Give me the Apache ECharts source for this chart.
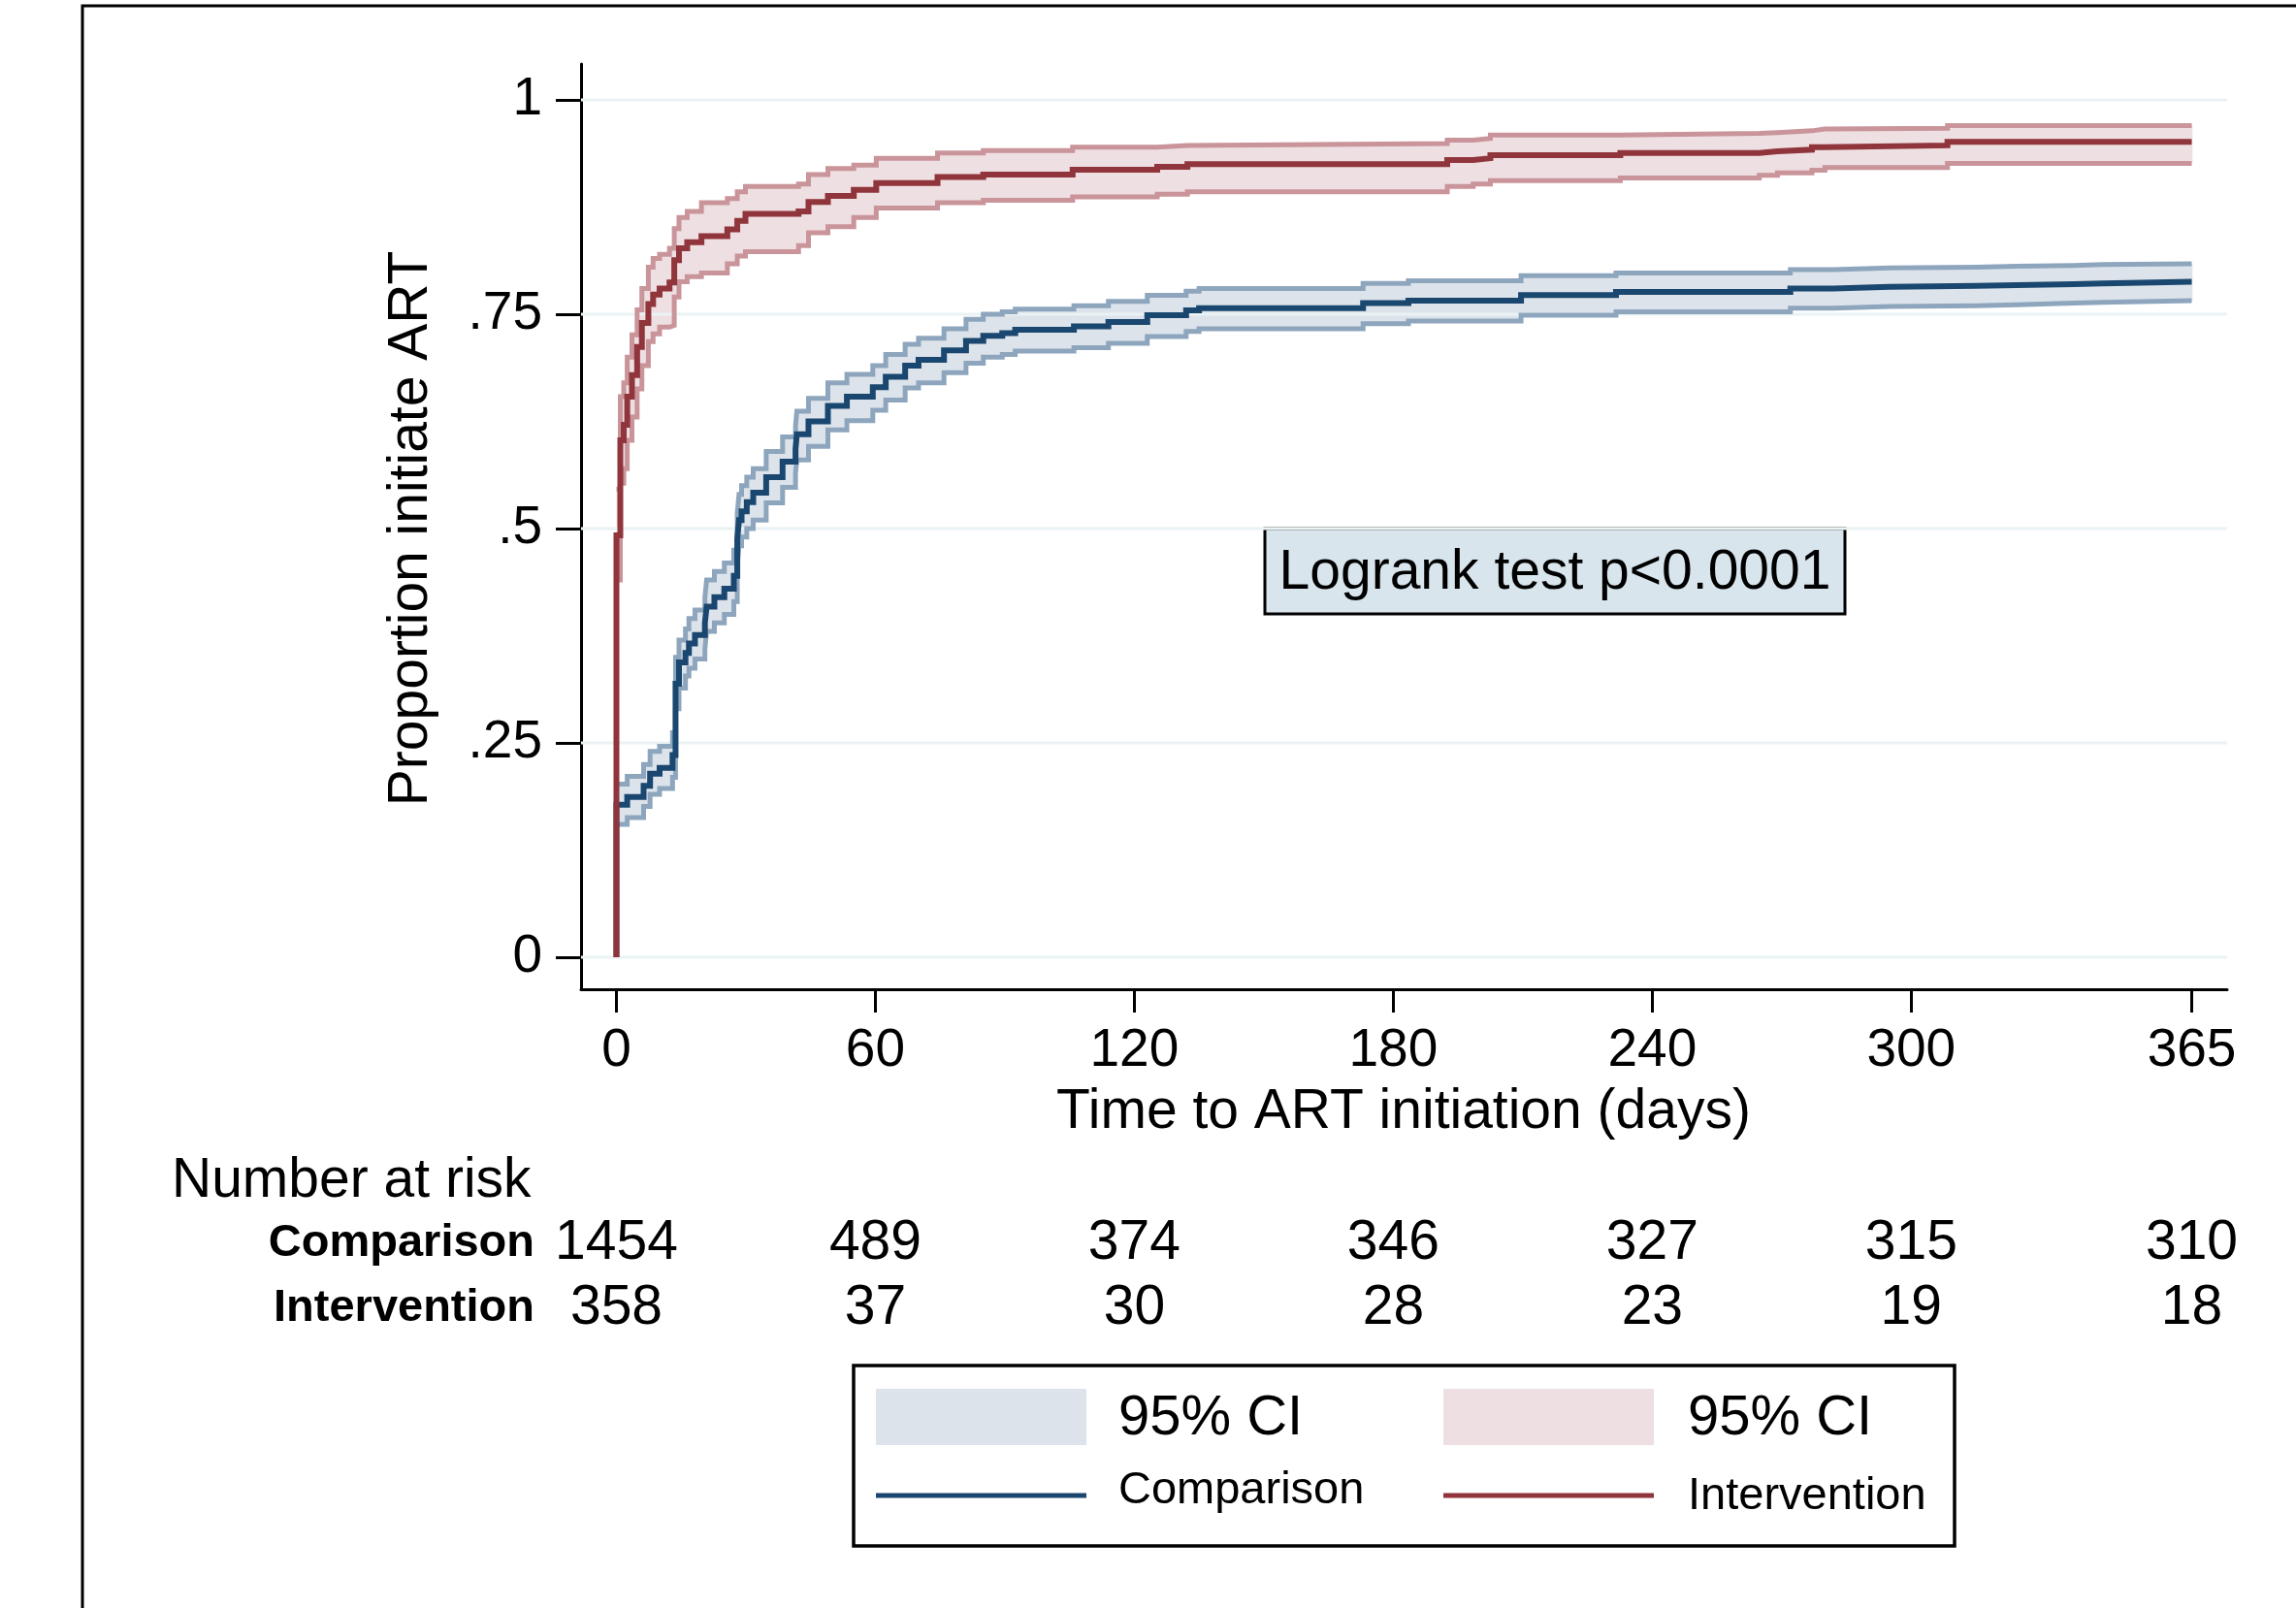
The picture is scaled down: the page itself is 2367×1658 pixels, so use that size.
<!DOCTYPE html>
<html>
<head>
<meta charset="utf-8">
<title>Time to ART initiation</title>
<script src="https://cdn.jsdelivr.net/npm/echarts@6/dist/echarts.min.js"></script>
<style>
  html, body { margin: 0; padding: 0; background: #fff; }
  #chart { width: 2367px; height: 1658px; }
</style>
</head>
<body>
<div id="chart"></div>
<script>
  // axis ticks
  var xTicks = [0, 60, 120, 180, 240, 300, 365];
  var yTicks = [0, 0.25, 0.5, 0.75, 1];
  var yTickLabels = ['0', '.25', '.5', '.75', '1'];

  // number at risk
  var riskRows = ['Comparison', 'Intervention'];
  var riskComparison = [1454, 489, 374, 346, 327, 315, 310];
  var riskIntervention = [358, 37, 30, 28, 23, 19, 18];

  // Comparison: step times, failure estimate, 95% CI
  var compDays = [0, 2.5, 6.3, 7.8, 10, 13, 13.7, 14.5, 16, 16.8, 18.2, 20.5, 20.9, 22.7, 25, 27.2, 28, 28.4, 29, 30.2,
    31.7, 34.7, 38.5, 41.5, 41.8, 44.5, 49, 53.4, 59.4, 62.4, 66.9, 70, 75.9, 81, 85, 89.4, 92.4, 106, 114, 123,
    132, 135, 173, 183.5, 209.6, 231.6, 272, 282, 295, 315, 324.5, 337.7, 344.3];
  var compEst = [.178, .187, .200, .214, .221, .236, .319, .344, .355, .366, .376, .390, .409, .420, .430, .445, .488, .510, .520, .531,
    .542, .560, .578, .593, .610, .625, .643, .654, .665, .677, .690, .697, .708, .719, .725, .728, .732, .736, .741, .749,
    .7545, .757, .763, .766, .7725, .776, .780, .782, .783, .784, .785, .786, .788];
  var compLo = [.155, .163, .176, .190, .197, .210, .290, .314, .328, .337, .348, .360, .380, .390, .400, .415, .457, .480, .490, .500,
    .510, .530, .548, .565, .580, .596, .615, .626, .638, .650, .664, .670, .682, .693, .700, .703, .707, .711, .716, .724,
    .730, .733, .739, .742, .749, .753, .757, .759, .760, .761, .763, .764, .766];
  var compHi = [.202, .211, .225, .240, .246, .262, .350, .370, .383, .395, .405, .420, .440, .450, .460, .475, .518, .540, .550, .560,
    .570, .590, .607, .620, .637, .652, .670, .680, .690, .703, .715, .722, .733, .744, .750, .753, .756, .760, .765, .772,
    .777, .780, .786, .789, .795, .798, .802, .804, .805, .806, .807, .808, .809];

  // Intervention
  var intDays = [0, 0.9, 1.7, 2.5, 3.6, 4.8, 5.9, 7.4, 8.5, 10, 12.3, 13.4, 14.5, 16.4, 19.7, 25.7, 28, 29.9, 42.2, 44.5,
    49, 55, 60.2, 74.4, 85, 105.7, 125.3, 132.3, 192.5, 198.5, 202.5, 232.6, 264.8, 269, 277, 280, 308.4];
  var intEst = [.492, .603, .621, .654, .679, .712, .740, .762, .773, .780, .787, .813, .827, .834, .841, .849, .859, .867, .870, .881,
    .888, .895, .903, .910, .913, .9185, .922, .925, .930, .932, .9355, .938, .940, .942, .945, .947, .951];
  var intLo = [.440, .553, .570, .603, .630, .663, .690, .718, .727, .735, .737, .770, .788, .794, .798, .809, .818, .823, .830, .845,
    .852, .863, .874, .880, .883, .887, .890, .893, .899, .902, .906, .909, .912, .915, .918, .921, .926];
  var intHi = [.546, .654, .670, .700, .726, .755, .780, .805, .815, .820, .827, .850, .863, .870, .880, .885, .893, .899, .902, .913,
    .920, .924, .932, .938, .941, .945, .947, .949, .953, .955, .959, .961, .962, .964, .966, .967, .970];

  var endDay = 365;
  var xMin = -8.2, xMax = 373.2;
  var FONT = '"Liberation Sans", Arial, Helvetica, sans-serif';

  var BLUE = '#1a476f', BLUE_EDGE = '#8ea6bd', BLUE_FILL = '#dde3ea';
  var RED = '#90353b', RED_EDGE = '#c9949a', RED_FILL = '#eedfe2';

  function pairs(days, vals, startZero) {
    var out = startZero ? [[0, 0]] : [];
    for (var i = 0; i < days.length; i++) out.push([days[i], vals[i]]);
    out.push([endDay, vals[vals.length - 1]]);
    return out;
  }
  function stepLine(name, data, color, width) {
    return {
      name: name, type: 'line', step: 'end', data: data, symbol: 'none', silent: true,
      lineStyle: { color: color, width: width, cap: 'butt', join: 'miter' }
    };
  }
  // CI band: one rectangle per step interval [day_i, day_i+1] x [lo_i, hi_i]
  function band(days, lo, hi, fill) {
    var data = days.map(function (d, i) {
      var next = i + 1 < days.length ? days[i + 1] : endDay;
      return [d, next, lo[i], hi[i]];
    });
    return {
      type: 'custom', silent: true, data: data,
      encode: { x: [0, 1], y: [2, 3] },
      renderItem: function (params, api) {
        var a = api.coord([api.value(0), api.value(3)]);
        var b = api.coord([api.value(1), api.value(2)]);
        return {
          type: 'rect',
          shape: { x: a[0], y: a[1], width: b[0] - a[0] + 0.8, height: b[1] - a[1] },
          style: { fill: fill }
        };
      }
    };
  }

  var series = [];
  yTicks.forEach(function (v) {
    series.push({ type: 'line', data: [[xMin, v], [xMax, v]], symbol: 'none', silent: true,
      lineStyle: { color: '#eaf2f3', width: 3 } });
  });
  series.push(band(compDays, compLo, compHi, BLUE_FILL));
  series.push(band(intDays, intLo, intHi, RED_FILL));
  series.push(stepLine('compLo', pairs(compDays, compLo), BLUE_EDGE, 5));
  series.push(stepLine('compHi', pairs(compDays, compHi), BLUE_EDGE, 5));
  series.push(stepLine('intLo', pairs(intDays, intLo), RED_EDGE, 5));
  series.push(stepLine('intHi', pairs(intDays, intHi), RED_EDGE, 5));
  series.push(stepLine('Comparison', pairs(compDays, compEst, true), BLUE, 6));
  series.push(stepLine('Intervention', pairs(intDays, intEst, true), RED, 6));

  function riskSeries(row, counts) {
    return {
      type: 'scatter', xAxisIndex: 1, yAxisIndex: 1, silent: true,
      symbolSize: 2, itemStyle: { color: 'rgba(0,0,0,0)' },
      data: xTicks.map(function (t, i) { return [t, row, counts[i]]; }),
      label: { show: true, position: 'inside', formatter: function (p) { return String(p.value[2]); },
        color: '#000', opacity: 1, textBorderWidth: 0, fontSize: 57, fontFamily: FONT }
    };
  }
  series.push(riskSeries(riskRows[0], riskComparison));
  series.push(riskSeries(riskRows[1], riskIntervention));

  var chart = echarts.init(document.getElementById('chart'));
  chart.setOption({
    animation: false,
    backgroundColor: '#fff',
    textStyle: { fontFamily: FONT },
    grid: [
      { left: 599, right: 71, top: 66, bottom: 638 },
      { left: 599, right: 71, top: 1249, height: 134 }
    ],
    xAxis: [{
      type: 'value', min: xMin, max: xMax,
      axisLine: { onZero: false, lineStyle: { color: '#000', width: 3 } },
      axisTick: { customValues: xTicks, length: 24, lineStyle: { color: '#000', width: 3 } },
      axisLabel: { customValues: xTicks, fontSize: 55, color: '#000', margin: 36, fontFamily: FONT },
      splitLine: { show: false }
    }, {
      type: 'value', min: xMin, max: xMax, gridIndex: 1, show: false
    }],
    yAxis: [{
      type: 'value', min: -0.0373, max: 1.0419,
      axisLine: { show: true, onZero: false, lineStyle: { color: '#000', width: 3 } },
      axisTick: { show: true, customValues: yTicks, length: 26, lineStyle: { color: '#000', width: 3 } },
      axisLabel: { customValues: yTicks, fontSize: 55, color: '#000', margin: 40, fontFamily: FONT,
        formatter: function (v) {
          var i = yTicks.indexOf(v);
          return i >= 0 ? yTickLabels[i] : '';
        } },
      splitLine: { show: false }
    }, {
      type: 'category', gridIndex: 1, data: riskRows, inverse: true,
      axisLine: { show: false }, axisTick: { show: false }, splitLine: { show: false },
      axisLabel: { fontSize: 47, fontWeight: 'bold', color: '#000', margin: 48, fontFamily: FONT }
    }],
    series: series,
    graphic: [
      // outer border
      { type: 'polyline', shape: { points: [[85, 1658], [85, 6], [2367, 6]] }, silent: true,
        style: { stroke: '#000', lineWidth: 3, fill: null } },
      // axis titles
      { type: 'text', x: 424, y: 545, rotation: Math.PI / 2, silent: true,
        style: { text: 'Proportion initiate ART', fontSize: 57, fontFamily: FONT, fill: '#000',
          textAlign: 'center', textVerticalAlign: 'middle' } },
      { type: 'text', x: 1447, y: 1147, silent: true,
        style: { text: 'Time to ART initiation (days)', fontSize: 57, fontFamily: FONT, fill: '#000',
          textAlign: 'center', textVerticalAlign: 'middle' } },
      { type: 'text', x: 177, y: 1218, silent: true,
        style: { text: 'Number at risk', fontSize: 57, fontFamily: FONT, fill: '#000',
          textAlign: 'left', textVerticalAlign: 'middle' } },
      // logrank box
      { type: 'rect', shape: { x: 1304, y: 545, width: 598, height: 88 }, silent: true,
        style: { fill: '#d9e5ec', stroke: '#000', lineWidth: 3 } },
      { type: 'text', x: 1603, y: 591, silent: true,
        style: { text: 'Logrank test p<0.0001', fontSize: 57, fontFamily: FONT, fill: '#000',
          textAlign: 'center', textVerticalAlign: 'middle' } },
      // legend
      { type: 'rect', shape: { x: 880, y: 1408, width: 1135, height: 186 }, silent: true,
        style: { fill: '#fff', stroke: '#000', lineWidth: 3.5 } },
      { type: 'rect', shape: { x: 903, y: 1432, width: 217, height: 58 }, silent: true, style: { fill: BLUE_FILL } },
      { type: 'rect', shape: { x: 1488, y: 1432, width: 217, height: 58 }, silent: true, style: { fill: RED_FILL } },
      { type: 'text', x: 1153, y: 1463, silent: true,
        style: { text: '95% CI', fontSize: 58, fontFamily: FONT, fill: '#000', textVerticalAlign: 'middle' } },
      { type: 'text', x: 1740, y: 1463, silent: true,
        style: { text: '95% CI', fontSize: 58, fontFamily: FONT, fill: '#000', textVerticalAlign: 'middle' } },
      { type: 'line', shape: { x1: 903, y1: 1542, x2: 1120, y2: 1542 }, silent: true,
        style: { stroke: BLUE, lineWidth: 5 } },
      { type: 'line', shape: { x1: 1488, y1: 1542, x2: 1705, y2: 1542 }, silent: true,
        style: { stroke: RED, lineWidth: 5 } },
      { type: 'text', x: 1153, y: 1537, silent: true,
        style: { text: 'Comparison', fontSize: 47, fontFamily: FONT, fill: '#000', textVerticalAlign: 'middle' } },
      { type: 'text', x: 1740, y: 1543, silent: true,
        style: { text: 'Intervention', fontSize: 47, fontFamily: FONT, fill: '#000', textVerticalAlign: 'middle' } }
    ]
  });
</script>
</body>
</html>
